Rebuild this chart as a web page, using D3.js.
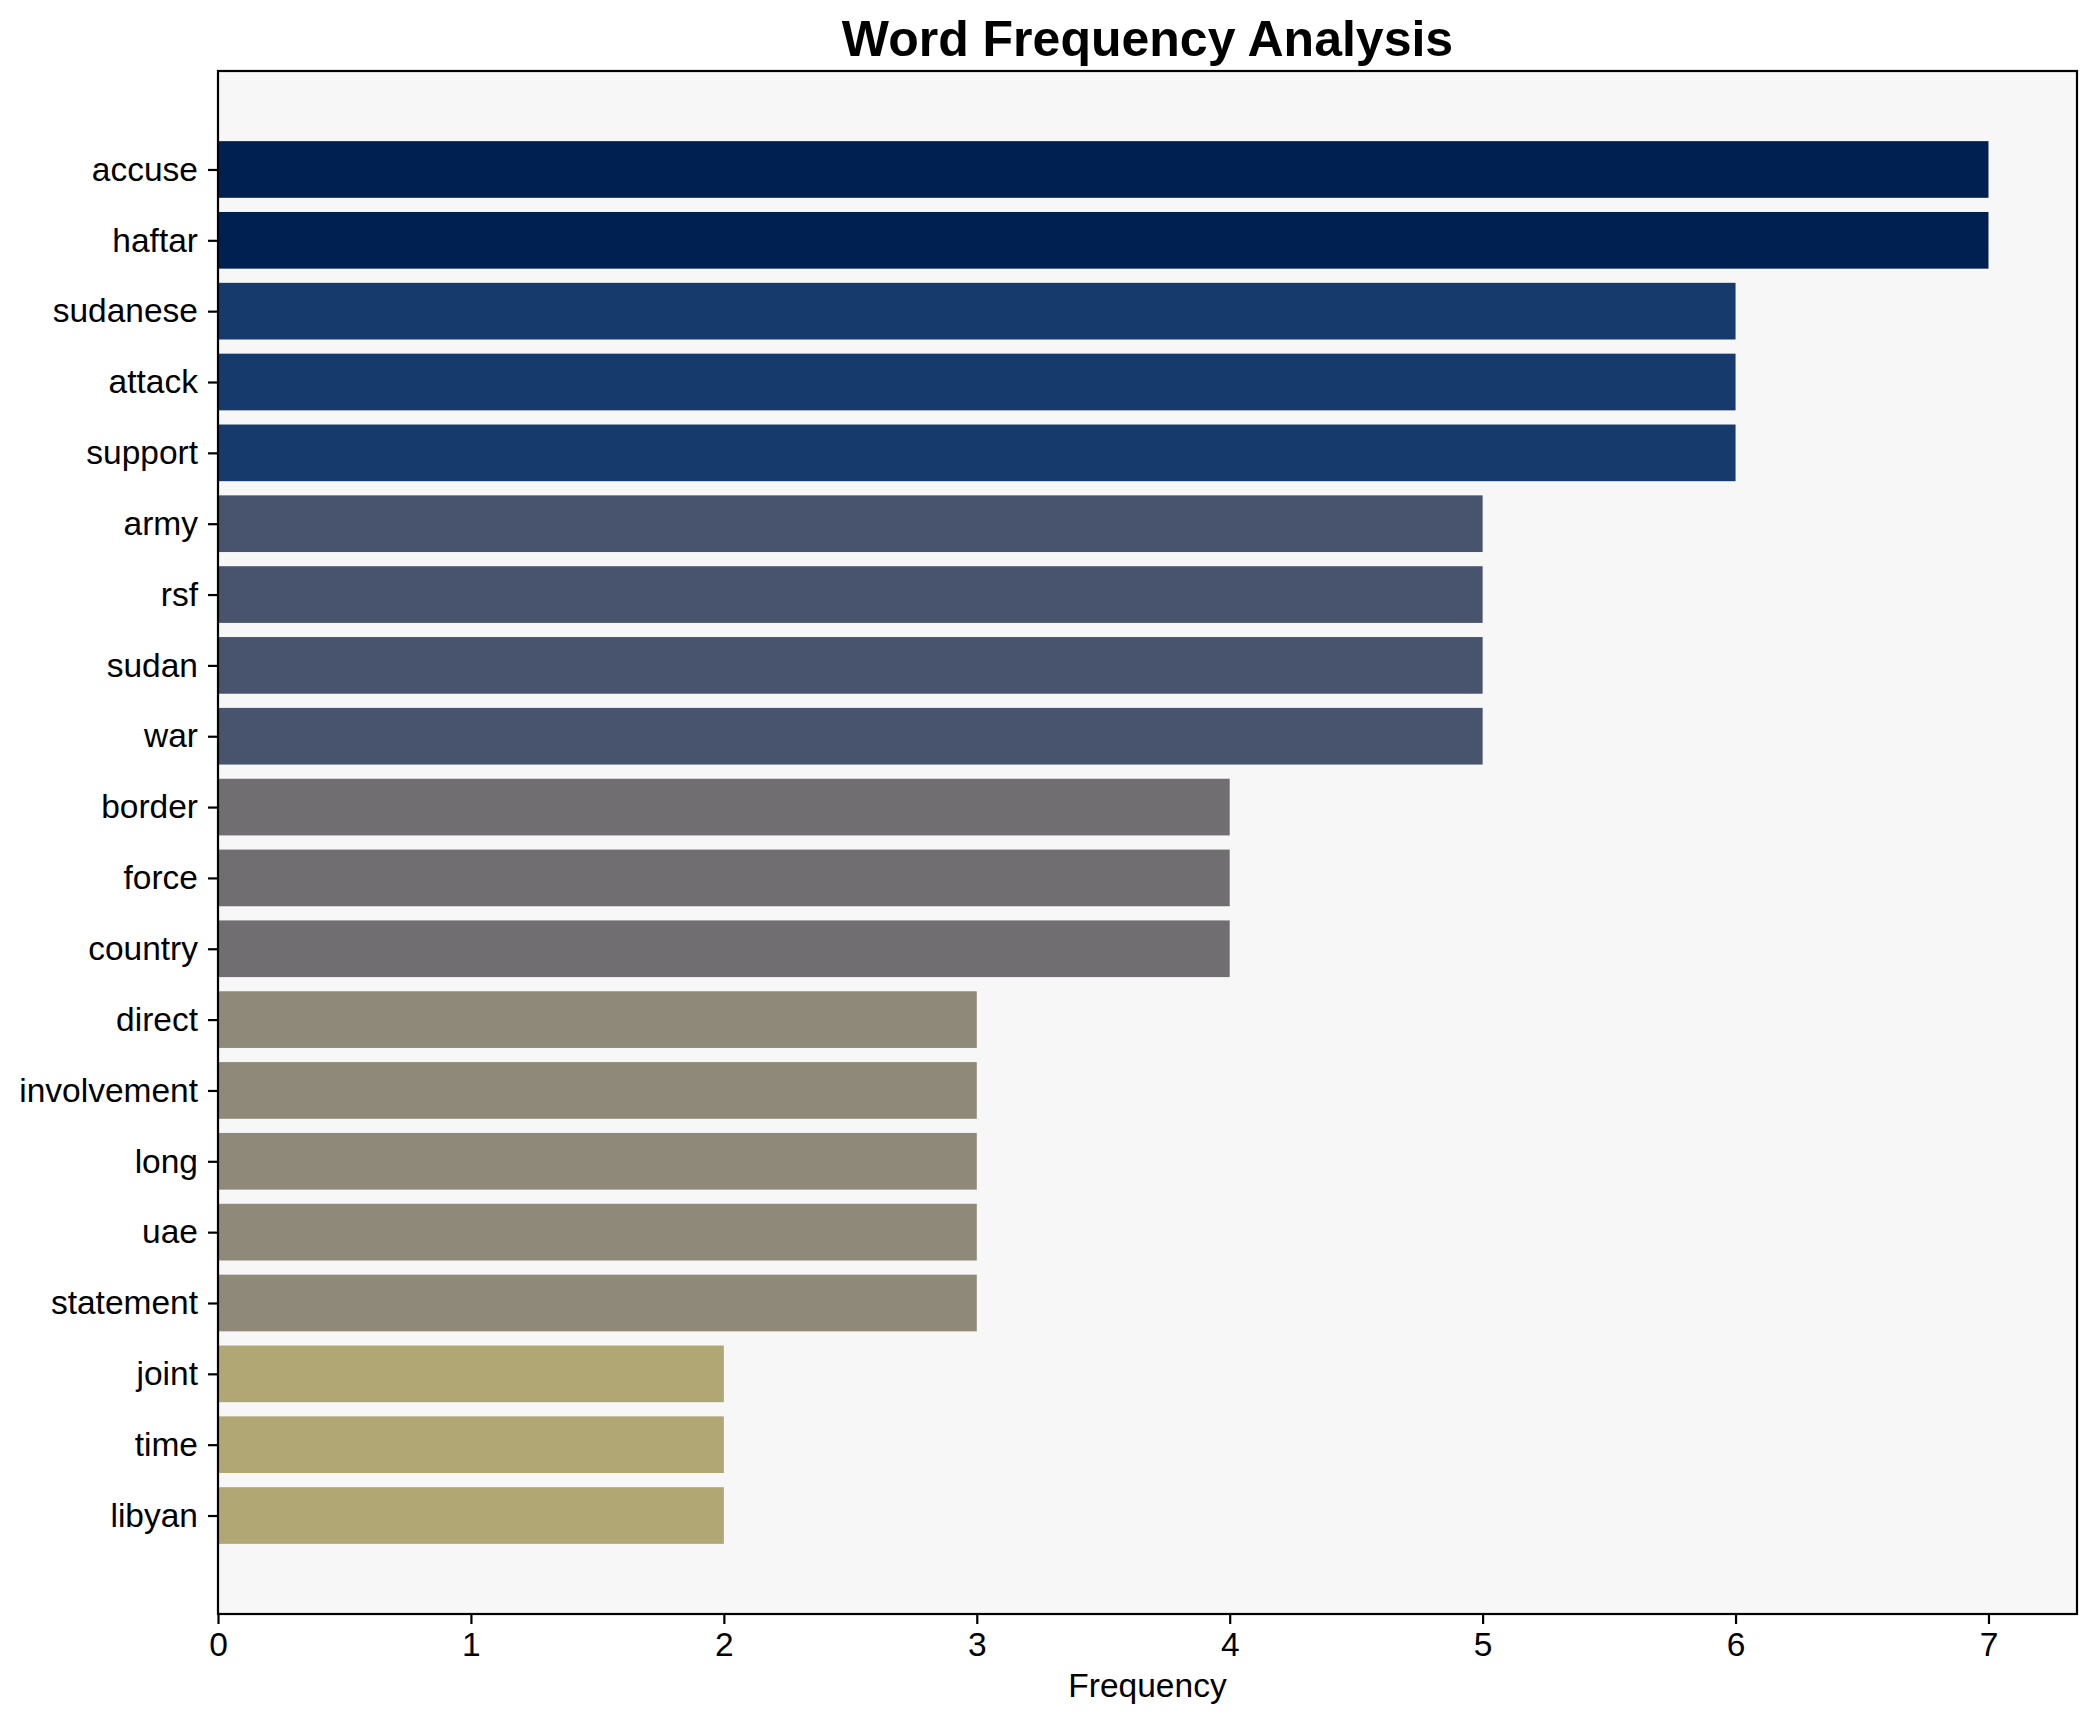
<!DOCTYPE html>
<html>
<head>
<meta charset="utf-8">
<script src="https://cdn.jsdelivr.net/npm/d3@7"></script>
<style>
  body { margin: 0; background: #ffffff; }
  text { font-family: "Liberation Sans", Arial, sans-serif; fill: #000; }
</style>
</head>
<body>
<svg id="chart"></svg>
<script>
// Words and their counts, top to bottom
const words = ["accuse", "haftar", "sudanese", "attack", "support", "army", "rsf", "sudan", "war",
  "border", "force", "country", "direct", "involvement", "long", "uae", "statement", "joint", "time", "libyan"];
const counts = [7, 7, 6, 6, 6, 5, 5, 5, 5, 4, 4, 4, 3, 3, 3, 3, 3, 2, 2, 2];
const xTicks = [0, 1, 2, 3, 4, 5, 6, 7];

const width = 2097;
const height = 1722;
// plot area edges (window.top is reserved, so use other names)
const plotLeft = 218, plotRight = 2077, plotTop = 71, plotBottom = 1614;

const svg = d3.select("#chart")
    .attr("width", width)
    .attr("height", height);

const maxCount = d3.max(counts);

// matplotlib-like padding: 5% on both axes
const x = d3.scaleLinear()
    .domain([0, maxCount * 1.05])
    .range([plotLeft, plotRight]);

const barH = 0.8;
const ySpan = (words.length - 1) + barH;
const y = d3.scaleLinear()
    .domain([-barH / 2 - ySpan * 0.05, words.length - 1 + barH / 2 + ySpan * 0.05])
    .range([plotTop, plotBottom]);

// darker bars for higher counts
const color = v => d3.interpolateCividis(1 - v / maxCount);

// axes background
svg.append("rect")
    .attr("x", plotLeft).attr("y", plotTop)
    .attr("width", plotRight - plotLeft).attr("height", plotBottom - plotTop)
    .attr("fill", "#f7f7f7");

svg.selectAll("rect.bar")
    .data(words)
    .enter()
    .append("rect")
    .attr("class", "bar")
    .attr("x", x(0))
    .attr("y", (d, i) => y(i - barH / 2))
    .attr("width", (d, i) => x(counts[i]) - x(0))
    .attr("height", (d, i) => y(i + barH / 2) - y(i - barH / 2))
    .attr("fill", (d, i) => color(counts[i]));

// x axis
const xAxis = svg.append("g")
    .attr("transform", `translate(0,${plotBottom})`)
    .call(d3.axisBottom(x).tickValues(xTicks).tickFormat(d3.format("d")).tickSize(10).tickPadding(8));

// y axis
const yAxis = svg.append("g")
    .attr("transform", `translate(${plotLeft},0)`)
    .call(d3.axisLeft(y).tickValues(d3.range(words.length)).tickFormat(i => words[i]).tickSize(10).tickPadding(10));

[xAxis, yAxis].forEach(g => {
  g.select(".domain").remove();
  g.selectAll(".tick line").attr("stroke", "#000").attr("stroke-width", 2.2);
  g.selectAll(".tick text")
      .attr("font-size", 33.5)
      .style("font-family", '"Liberation Sans", Arial, sans-serif')
      .attr("fill", "#000");
});

// frame
svg.append("rect")
    .attr("x", plotLeft).attr("y", plotTop)
    .attr("width", plotRight - plotLeft).attr("height", plotBottom - plotTop)
    .attr("fill", "none")
    .attr("stroke", "#000")
    .attr("stroke-width", 2.2);

svg.append("text")
    .attr("x", (plotLeft + plotRight) / 2)
    .attr("y", 56)
    .attr("text-anchor", "middle")
    .attr("font-size", 50)
    .attr("font-weight", "bold")
    .text("Word Frequency Analysis");

svg.append("text")
    .attr("x", (plotLeft + plotRight) / 2)
    .attr("y", 1697)
    .attr("text-anchor", "middle")
    .attr("font-size", 33.5)
    .text("Frequency");
</script>
</body>
</html>
